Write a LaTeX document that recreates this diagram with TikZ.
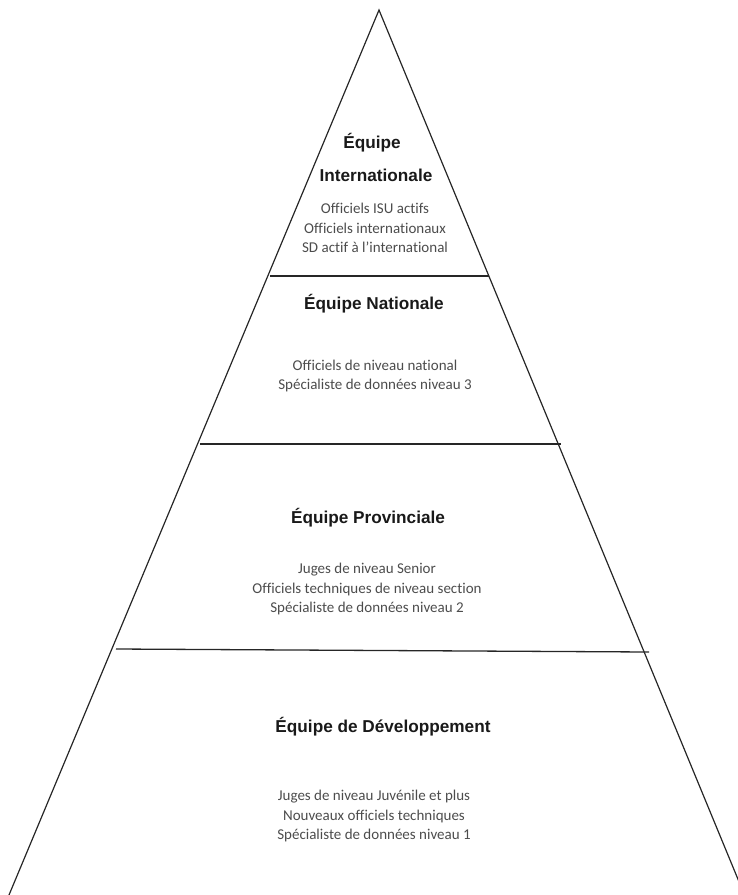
\documentclass[tikz,border=0pt]{standalone}
\usepackage{fontspec}
\setmainfont{Carlito}[Ligatures=NoCommon]
\newfontfamily\headfont{Liberation Sans}
\begin{document}
\begin{tikzpicture}[x=1pt,y=-1pt,
  edge/.style={draw=black!85, line width=1.2pt},
  tier/.style={draw=black!85, line width=1.3pt},
  head/.style={font=\headfont\bfseries\fontsize{17.2}{20}\selectfont, text=black!90, inner sep=0pt},
  body/.style={font=\fontsize{15}{19.3}\selectfont, text=black!70, align=center, inner sep=0pt}]
\useasboundingbox (0,0) rectangle (738,895);
\clip (0,0) rectangle (738,895);
\coordinate (apex) at (379,10);
\coordinate (bl) at (9,895);
\coordinate (br) at (744.5,895);
\draw[edge] (bl) -- (apex) -- (br);
% tier lines
\coordinate (a1) at (270,276); \coordinate (b1) at (489,276);
\coordinate (a2) at (200,444); \coordinate (b2) at (561,444);
\coordinate (a3) at (116,649); \coordinate (b3) at (649,652);
\draw[tier] (a1) -- (b1);
\draw[tier] (a2) -- (b2);
\draw[tier] (a3) -- (b3);
% International
\node[head] (h1a) at (372,143) {Équipe};
\node[head] (h1b) at (376,175) {Internationale};
\node[body] (t1) at (375,228) {Officiels ISU actifs\\Officiels internationaux\\SD actif à l’international};
% National
\node[head] (h2) at (374,304) {Équipe Nationale};
\node[body] (t2) at (375,376) {Officiels de niveau national\\Spécialiste de données niveau 3};
% Provincial
\node[head] (h3) at (368,518) {Équipe Provinciale};
\node[body] (t3) at (367,589) {Juges de niveau Senior\\Officiels techniques de niveau section\\Spécialiste de données niveau 2};
% Development
\node[head] (h4) at (383,727) {Équipe de Développement};
\node[body] (t4) at (374,816) {Juges de niveau Juvénile et plus\\Nouveaux officiels techniques\\Spécialiste de données niveau 1};
\end{tikzpicture}
\end{document}
